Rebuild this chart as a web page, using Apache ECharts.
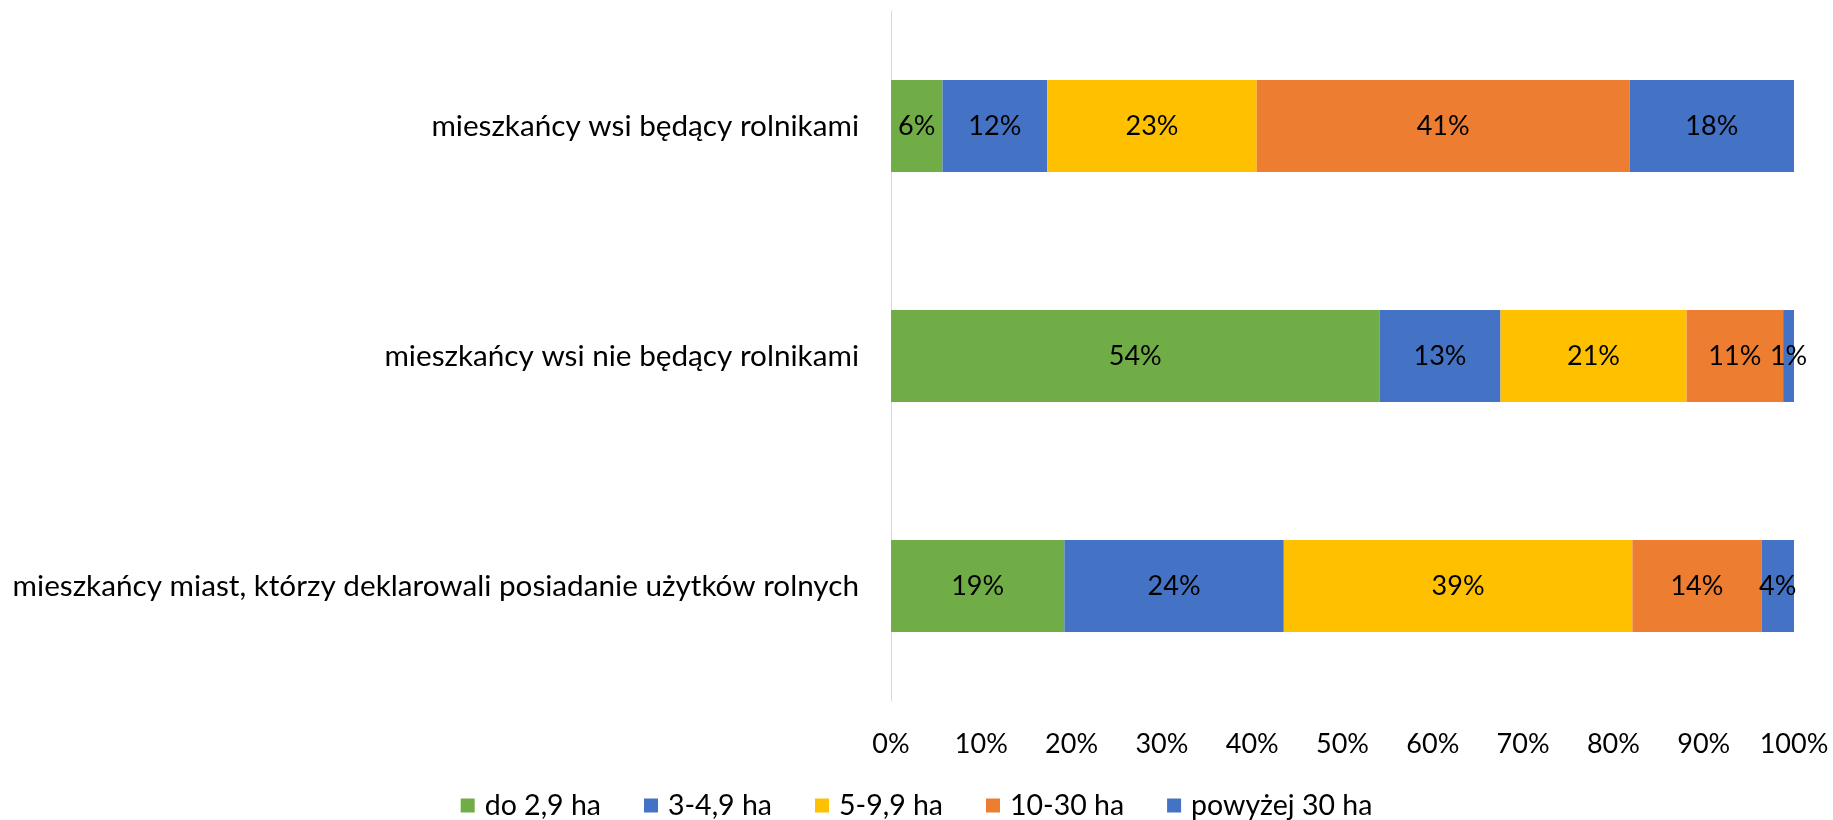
<!DOCTYPE html>
<html>
<head>
<meta charset="utf-8">
<script src="https://cdn.jsdelivr.net/npm/echarts@6/dist/echarts.min.js"></script>
<style>
html, body { margin: 0; padding: 0; background: #fff; }
#chart { width: 1833px; height: 820px; }
</style>
</head>
<body>
<div id="chart"></div>
<script>
// kategorie (od góry)
const categories = [
    'mieszkańcy wsi będący rolnikami',
    'mieszkańcy wsi nie będący rolnikami',
    'mieszkańcy miast, którzy deklarowali posiadanie użytków rolnych'
]
const seriesNames = ['do 2,9 ha', '3-4,9 ha', '5-9,9 ha', '10-30 ha', 'powyżej 30 ha']
const do29 = [5.7, 54.1, 19.2]
const od3do49 = [11.6, 13.4, 24.3]
const od5do99 = [23.2, 20.6, 38.6]
const od10do30 = [41.3, 10.7, 14.3]
const pow30 = [18.2, 1.2, 3.6]
const xTicks = [0, 10, 20, 30, 40, 50, 60, 70, 80, 90, 100]

const colors = ['#70AD47', '#4472C4', '#FFC000', '#ED7D31', '#4472C4']
const font = 'Lato'

const myChart = echarts.init(document.getElementById('chart'))

const makeSeries = (name, data, i) => ({
    name: name,
    type: 'bar',
    stack: 'total',
    data: data,
    barCategoryGap: '60%',
    itemStyle: { color: colors[i] },
    label: {
        show: true,
        position: 'inside',
        color: '#000',
        fontFamily: font,
        fontSize: 27,
        formatter: p => Math.round(p.value) + '%'
    }
})

const option = {
    animation: false,
    textStyle: { fontFamily: font },
    grid: {
        left: 891,
        right: 39,
        top: 11,
        bottom: 119
    },
    legend: {
        top: 786,
        left: 'center',
        icon: 'rect',
        itemWidth: 14,
        itemHeight: 14,
        itemGap: 43,
        textStyle: {
            color: '#000',
            fontFamily: font,
            fontSize: 28.5,
            padding: [0, 0, 0, 5]
        },
        data: seriesNames
    },
    xAxis: {
        type: 'value',
        min: xTicks[0],
        max: xTicks[xTicks.length - 1],
        interval: 10,
        axisLine: { show: false },
        axisTick: { show: false },
        splitLine: { show: false },
        axisLabel: {
            color: '#000',
            fontFamily: font,
            fontSize: 27,
            margin: 30,
            formatter: '{value}%'
        }
    },
    yAxis: {
        type: 'category',
        inverse: true,
        data: categories,
        axisLine: { show: true, lineStyle: { color: '#D9D9D9', width: 1 } },
        axisTick: { show: false },
        axisLabel: {
            color: '#000',
            fontFamily: font,
            fontSize: 29.7,
            margin: 32
        }
    },
    series: [
        makeSeries(seriesNames[0], do29, 0),
        makeSeries(seriesNames[1], od3do49, 1),
        makeSeries(seriesNames[2], od5do99, 2),
        makeSeries(seriesNames[3], od10do30, 3),
        makeSeries(seriesNames[4], pow30, 4)
    ]
}

myChart.setOption(option)
</script>
</body>
</html>
